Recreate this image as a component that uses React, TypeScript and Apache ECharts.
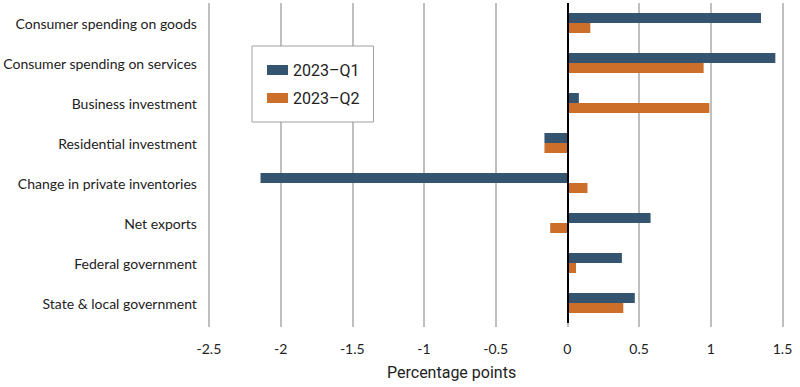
import React, { useEffect, useRef } from "react";
import * as echarts from "echarts";

const categories = [
  "Consumer spending on goods",
  "Consumer spending on services",
  "Business investment",
  "Residential investment",
  "Change in private inventories",
  "Net exports",
  "Federal government",
  "State & local government",
];
const q1Values = [1.35, 1.45, 0.08, -0.16, -2.14, 0.58, 0.38, 0.47];
const q2Values = [0.16, 0.95, 0.99, -0.16, 0.14, -0.12, 0.06, 0.39];
const seriesNames = ["2023\u2013Q1", "2023\u2013Q2"];
const axisName = "Percentage points";

const NARROW = "Lato, 'Liberation Sans Narrow', sans-serif";
const SANS = "Roboto, 'Liberation Sans', sans-serif";

export default function App() {
  const ref = useRef<HTMLDivElement>(null);
  useEffect(() => {
    if (!ref.current) return;
    const chart = echarts.init(ref.current, undefined, { renderer: "svg" });
    chart.setOption({
      animation: false,
      backgroundColor: "#ffffff",
      grid: { left: 208, right: 17.5, top: 3, bottom: 64, containLabel: false },
      legend: {
        orient: "vertical",
        left: 252,
        top: 46,
        width: 126,
        padding: [16, 14, 16, 15],
        itemGap: 12,
        itemWidth: 21,
        itemHeight: 10,
        backgroundColor: "#ffffff",
        borderColor: "#a0a0a0",
        borderWidth: 1,
        textStyle: { fontFamily: SANS, fontSize: 16, color: "#222" },
        icon: "rect",
        data: seriesNames,
      },
      xAxis: {
        type: "value",
        min: -2.5,
        max: 1.5,
        interval: 0.5,
        axisLine: { show: false },
        axisTick: { show: true, length: 4, lineStyle: { color: "#aaaaaa", width: 1.5 } },
        splitLine: { show: true, lineStyle: { color: "#aaaaaa", width: 1.5 } },
        axisLabel: {
          fontFamily: NARROW,
          fontSize: 14,
          color: "#222",
          margin: 18,
          formatter: (v: number) => String(v),
        },
      },
      yAxis: {
        type: "category",
        data: categories,
        inverse: true,
        axisLine: { show: false },
        axisTick: { show: false },
        axisLabel: { fontFamily: NARROW, fontSize: 14, color: "#222", margin: 12 },
      },
      series: [
        {
          name: seriesNames[0],
          type: "bar",
          data: q1Values,
          barWidth: 10,
          barGap: "0%",
          itemStyle: { color: "#34546f" },
          markLine: {
            silent: true,
            symbol: "none",
            label: { show: false },
            lineStyle: { color: "#000000", width: 2, type: "solid" },
            data: [{ xAxis: 0 }],
          },
        },
        {
          name: seriesNames[1],
          type: "bar",
          data: q2Values,
          barWidth: 10,
          barGap: "0%",
          itemStyle: { color: "#cc6f2a" },
        },
      ],
      graphic: [
        {
          type: "text",
          left: 387,
          top: 364,
          style: { text: axisName, fontFamily: SANS, fontSize: 16, fill: "#222" },
        },
      ],
    });
    return () => chart.dispose();
  }, []);
  return (
    <div
      ref={ref}
      style={{ position: "absolute", left: 0, top: 0, width: 800, height: 387 }}
    />
  );
}
